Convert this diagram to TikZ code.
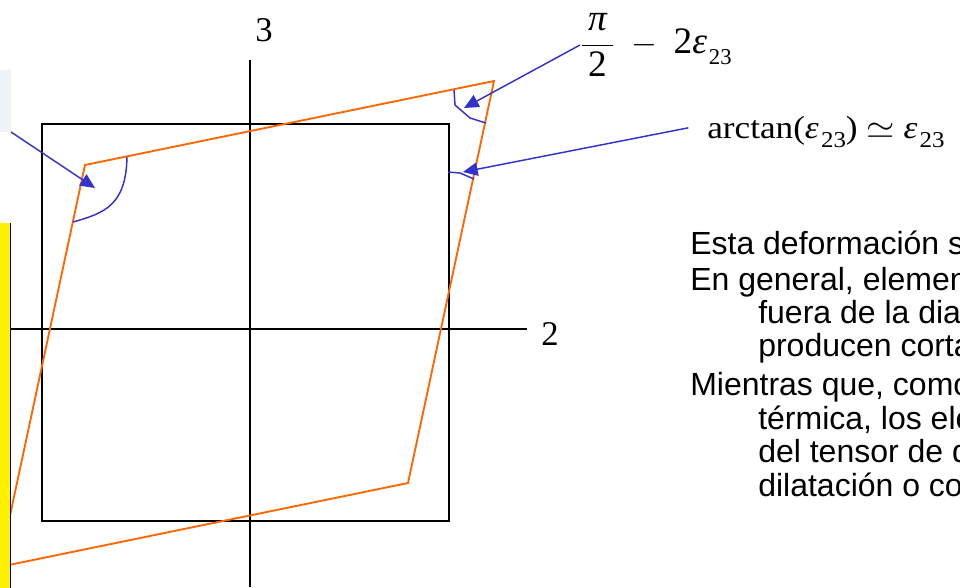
\documentclass[tikz,border=0pt]{standalone}
\usepackage{fontspec}
\setmainfont{Liberation Serif}
\newfontfamily\arialfont{Liberation Sans}
\usepackage{graphicx}
\usetikzlibrary{arrows.meta}

\definecolor{deforange}{HTML}{FF6600}
\definecolor{markblue}{HTML}{3333CC}
\definecolor{faintbox}{HTML}{EEF3F7}

\newcommand{\lowidx}[1]{\hspace{1.5pt}\raisebox{-0.3em}{\fontsize{17}{17}\selectfont #1}}

\tikzset{
	frame/.style={draw=black, line width=1.5pt},
	axis/.style={draw=black, line width=1.3pt},
	deformed/.style={draw=deforange, line width=1.4pt, line join=miter},
	anglemark/.style={draw=markblue, line width=1.1pt},
	pointer/.style={draw=markblue, line width=1.1pt, -{Triangle[length=11pt, width=10pt]}},
	axislabel/.style={inner sep=0pt, font=\fontsize{26}{30}\selectfont},
	mathlabel/.style={inner sep=0pt, font=\fontsize{24}{28}\selectfont},
	bodyline/.style={anchor=base west, inner sep=0pt, font=\arialfont\fontsize{24}{28}\selectfont},
}

\begin{document}
\begin{tikzpicture}[x=0.75pt, y=-0.75pt]

		\clip (0,0) rectangle (960,587);

		% Leftover box, top left
		\node[fill=faintbox, inner sep=0pt, minimum width=11*0.75pt, minimum height=62*0.75pt, anchor=south east] (ghost) at (11,132) {};

		% Axes
		\draw[axis] (250,60) -- (250,587);
		\draw[axis] (0,329) -- (527,329);
		\node[axislabel] (lab3) at (264,30) {3};
		\node[axislabel] (lab2) at (550,334) {2};

		% Undeformed element
		\draw[frame] (42,124) rectangle (449,521);

		% Deformed element
		\coordinate (TL) at (85,165);
		\coordinate (TR) at (494,81);
		\coordinate (BR) at (408,483);
		\coordinate (BL) at (-1,567);
		\draw[deformed] (TL) -- (TR) -- (BR) -- (BL) -- cycle;

		% Angle marks
		\draw[anglemark] (127,157) .. controls (126,205) and (105,213) .. (73,222);
		\draw[anglemark] (454,90) -- (455,105) -- (470,118) -- (486,123);
		\draw[anglemark] (448,172) -- (460,173) -- (474,179);

		\coordinate (tip1) at (95,188);
		\coordinate (tip2) at (464,108);
		\coordinate (tip3) at (463,172);

		% Labels
		\node[mathlabel, font=\fontsize{28}{32}\selectfont, anchor=west] (angle) at (580,45)
			{$\displaystyle\frac{\mbox{\,\itshape π\,}}{\mbox{\,2\,}}\;-\;\mbox{2\itshape ε}\lowidx{23}$};
		\node[mathlabel, anchor=base west] (atan) at (707,138)
			{\scalebox{1.1}[1]{arctan(\textit{ε}\lowidx{23}) $\simeq$ \textit{ε}\lowidx{23}}};

		% Pointers
		\draw[pointer] (ghost.south east) -- (tip1);
		\draw[pointer] (angle.west) -- (tip2);
		\draw[pointer] ([xshift=-14pt, yshift=3pt]atan.west) -- (tip3);

		% Text
		\node[bodyline] (t1) at (690,254) {Esta deformación s};
		\node[bodyline] (t2) at (690,290) {En general, elemen};
		\node[bodyline] (t3) at (758,323) {fuera de la dia};
		\node[bodyline] (t4) at (758,356) {producen corta};
		\node[bodyline] (t5) at (690,395) {Mientras que, como};
		\node[bodyline] (t6) at (758,429) {térmica, los ele};
		\node[bodyline] (t7) at (758,462) {del tensor de d};
		\node[bodyline] (t8) at (758,496) {dilatación o co};

		% Yellow box, left edge
		\fill[yellow] (0,223) rectangle (10,590);
		\draw[line width=1.2pt] (10.5,223) -- (10.5,590);

	\end{tikzpicture}
\end{document}
